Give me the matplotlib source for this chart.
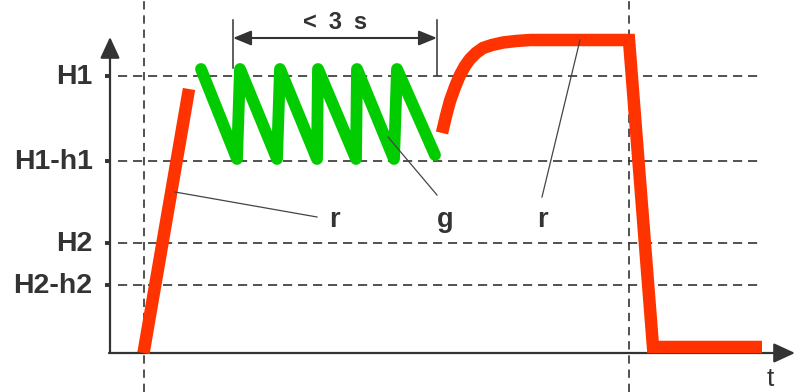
import matplotlib.pyplot as plt

plt.rcParams['font.family'] = ['Liberation Sans', 'DejaVu Sans']

# threshold levels (y) and their names
level_names = ['H1', 'H1-h1', 'H2', 'H2-h2']
level_values = [27.7, 19.2, 11.0, 6.8]

# vertical marker times
marker_times = [3.4, 51.9]

# first red ramp
rise_t = [3.35, 7.9]
rise_y = [0.0, 26.4]

# green oscillation
green_t = [9.1, 12.7, 13.0, 16.7, 17.0, 20.7, 20.8, 24.6, 24.7, 28.4, 28.7, 32.5]
green_y = [28.4, 19.4, 28.4, 19.4, 28.4, 19.4, 28.4, 19.4, 28.4, 19.4, 28.4, 19.8]

# second red curve: rise to plateau, drop, tail
red_t = [33.2, 33.6, 34.0, 34.5, 35.0, 35.5, 36.0, 36.6, 37.3, 38.2, 39.3, 40.6,
         42.0, 45.3, 51.9, 54.3, 65.2]
red_y = [22.0, 23.7, 25.2, 26.6, 27.8, 28.7, 29.4, 30.0, 30.5, 30.8, 31.05, 31.2,
         31.3, 31.3, 31.3, 0.6, 0.6]

# "< 3 s" window
window_t = [12.3, 32.7]
window_label = '<\u20023\u2002s'

# callouts: label, line start (t, y), line end (t, y), label t
callouts = [('r', (6.5, 16.1), (20.7, 13.6), 22.4),
            ('g', (27.8, 21.6), (32.7, 15.8), 33.5),
            ('r', (47.0, 31.3), (43.2, 15.6), 43.2)]

INK = '#333333'
RED = '#ff3300'
GREEN = '#00cc00'

fig = plt.figure(figsize=(7.96, 3.92), dpi=100)
ax = fig.add_axes([0, 0, 1, 1])
ax.set_xlim(-11.0, 68.6)
ax.set_ylim(-3.9, 35.3)
ax.axis('off')

# dashed grid lines
for lv in level_values:
    ax.plot([0.8, 65.0], [lv, lv], color=INK, lw=1.2, dashes=(5.5, 3.5), zorder=1)
for mt in marker_times:
    ax.plot([mt, mt], [-3.9, 35.3], color=INK, lw=1.2, dashes=(5, 3.5), zorder=1)

# axes with arrow heads
arrow = dict(arrowstyle='-|>,head_length=1.3,head_width=0.6',
             lw=1.6, color=INK, shrinkA=0, shrinkB=0, mutation_scale=10)
ax.annotate('', xy=(0, 31.6), xytext=(0, 0), arrowprops=arrow)
ax.annotate('', xy=(68.5, 0), xytext=(-0.1, 0), arrowprops=arrow)

# y ticks + labels
for name, lv in zip(level_names, level_values):
    ax.plot([-0.55, 0], [lv, lv], color=INK, lw=2.8, solid_capstyle='butt')
    ax.text(-1.75, lv - 0.8, name, ha='right', va='baseline', fontsize=20.5,
            fontweight='bold', color=INK)

ax.text(66.0, -2.6, 't', ha='center', va='center', fontsize=19, color=INK)

# signals
ax.plot(rise_t, rise_y, color=RED, lw=9, solid_capstyle='butt', zorder=3)
ax.plot(green_t, green_y, color=GREEN, lw=8.5, solid_capstyle='round',
        solid_joinstyle='round', zorder=3)
ax.plot(red_t, red_y, color=RED, lw=9, solid_capstyle='butt',
        solid_joinstyle='miter', zorder=3)

# time window annotation
ax.plot([window_t[0]] * 2, [33.3, 28.5], color=INK, lw=1.1, zorder=2)
ax.plot([window_t[1]] * 2, [33.3, 27.8], color=INK, lw=1.1, zorder=2)
ax.annotate('', xy=(window_t[1], 31.5), xytext=(window_t[0], 31.5),
            arrowprops=dict(arrowstyle='<|-|>,head_length=1.1,head_width=0.45',
                            lw=1.5, color=INK, shrinkA=0, shrinkB=0, mutation_scale=10))
ax.text(sum(window_t) / 2, 33.05, window_label, ha='center', va='center',
        fontsize=17, fontweight='bold', color=INK)

# callout labels
for lab, p0, p1, lab_t in callouts:
    ax.plot([p0[0], p1[0]], [p0[1], p1[1]], color='#444444', lw=0.9, zorder=4)
    ax.text(lab_t, 12.6, lab, ha='center', va='baseline', fontsize=19.5,
            fontweight='bold', color=INK)

fig.savefig('out.png', dpi=100)
